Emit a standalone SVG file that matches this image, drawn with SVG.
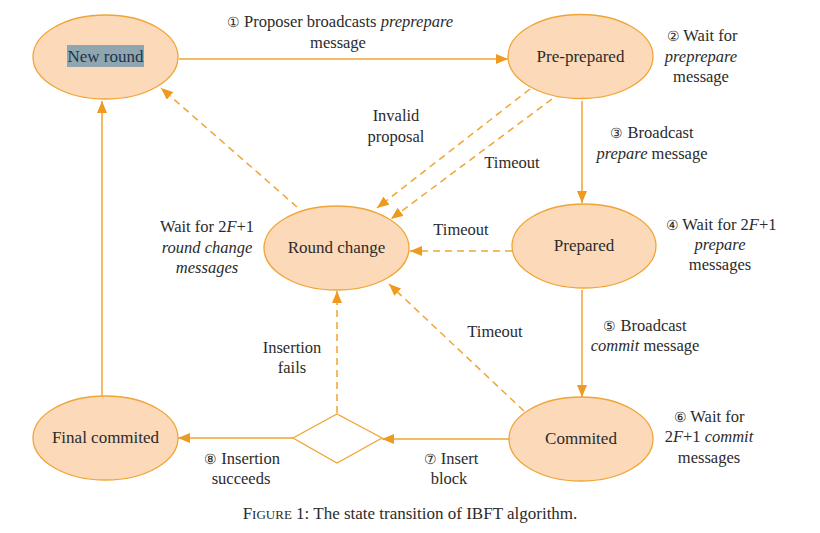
<svg xmlns="http://www.w3.org/2000/svg" width="820" height="533" viewBox="0 0 820 533">
<defs>
<style>
.node{fill:#FBD9B9;stroke:#F0A535;stroke-width:1.3}
.lbl{font-size:17px;fill:#2b2b2b;text-anchor:middle}
.t{font-size:16.5px;fill:#2b2b2b;text-anchor:middle}
.n{font-size:14px}
.ln{fill:none;stroke:#F0A535;stroke-width:1.5}
.dash{stroke-dasharray:7 5}
</style>
<marker id="ah" viewBox="0 0 12 10" refX="12" refY="5" markerWidth="12" markerHeight="10" markerUnits="userSpaceOnUse" orient="auto">
<path d="M0,0 L12,5 L0,10 Z" fill="#EE9A20"/>
</marker>
</defs>

<g id="connectors">
<line class="ln" x1="179" y1="59" x2="508" y2="59" marker-end="url(#ah)"/>
<line class="ln" x1="582" y1="101" x2="582" y2="203" marker-end="url(#ah)"/>
<line class="ln" x1="582" y1="290" x2="582" y2="397" marker-end="url(#ah)"/>
<line class="ln" x1="509" y1="439" x2="382" y2="439" marker-end="url(#ah)"/>
<line class="ln" x1="293" y1="438" x2="178" y2="438" marker-end="url(#ah)"/>
<line class="ln" x1="102" y1="396" x2="102" y2="101" marker-end="url(#ah)"/>
<line class="ln dash" x1="337" y1="413" x2="337" y2="291" marker-end="url(#ah)"/>
<line class="ln dash" x1="297" y1="207" x2="161" y2="88" marker-end="url(#ah)"/>
<line class="ln dash" x1="530" y1="89" x2="377" y2="208" marker-end="url(#ah)"/>
<line class="ln dash" x1="552" y1="99" x2="391" y2="219" marker-end="url(#ah)"/>
<line class="ln dash" x1="512" y1="251" x2="410" y2="251" marker-end="url(#ah)"/>
<line class="ln dash" x1="524" y1="411" x2="389" y2="284" marker-end="url(#ah)"/>
</g>

<g font-family="'Liberation Serif', 'DejaVu Serif', serif">
<g id="new-round">
<ellipse class="node" cx="105.5" cy="57" rx="72.5" ry="42"/>
<rect x="67" y="45" width="77" height="22" fill="#8FA5AF"/>
<text class="lbl" x="105.5" y="62" style="fill:#1d3448">New round</text>
</g>
<g id="pre-prepared">
<ellipse class="node" cx="580.5" cy="56.5" rx="72.5" ry="42"/>
<text class="lbl" x="580.5" y="62">Pre-prepared</text>
</g>
<g id="round-change">
<ellipse class="node" cx="336.5" cy="248" rx="72.5" ry="42"/>
<text class="lbl" x="336.5" y="253">Round change</text>
</g>
<g id="prepared">
<ellipse class="node" cx="584" cy="246" rx="72" ry="42"/>
<text class="lbl" x="584" y="251">Prepared</text>
</g>
<g id="commited">
<ellipse class="node" cx="581" cy="439" rx="72" ry="42"/>
<text class="lbl" x="581" y="444">Commited</text>
</g>
<g id="final-commited">
<ellipse class="node" cx="105.5" cy="438" rx="72.5" ry="42"/>
<text class="lbl" x="105.5" y="443">Final commited</text>
</g>
<g id="decision">
<polygon points="293,438 337,414 382,438 337,463" fill="#fff" stroke="#F0A535" stroke-width="1.3"/>
</g>

<g id="labels">
<text class="t" x="340" y="27"><tspan class="n">①</tspan> Proposer broadcasts <tspan font-style="italic">preprepare</tspan></text>
<text class="t" x="338" y="48">message</text>

<text class="t" x="702" y="41"><tspan class="n">②</tspan> Wait for</text>
<text class="t" x="701" y="62" font-style="italic">preprepare</text>
<text class="t" x="701" y="82">message</text>

<text class="t" x="396" y="121">Invalid</text>
<text class="t" x="396" y="142">proposal</text>
<text class="t" x="512" y="168">Timeout</text>

<text class="t" x="652" y="138"><tspan class="n">③</tspan> Broadcast</text>
<text class="t" x="652" y="159"><tspan font-style="italic">prepare</tspan> message</text>

<text class="t" x="461" y="235">Timeout</text>

<text class="t" x="207" y="232">Wait for 2<tspan font-style="italic">F</tspan>+1</text>
<text class="t" x="207" y="253" font-style="italic">round change</text>
<text class="t" x="207" y="273" font-style="italic">messages</text>

<text class="t" x="721" y="230"><tspan class="n">④</tspan> Wait for 2<tspan font-style="italic">F</tspan>+1</text>
<text class="t" x="720" y="250" font-style="italic">prepare</text>
<text class="t" x="720" y="270">messages</text>

<text class="t" x="495" y="337">Timeout</text>

<text class="t" x="645" y="331"><tspan class="n">⑤</tspan> Broadcast</text>
<text class="t" x="645" y="351"><tspan font-style="italic">commit</tspan> message</text>

<text class="t" x="292" y="353">Insertion</text>
<text class="t" x="292" y="373">fails</text>

<text class="t" x="709" y="422"><tspan class="n">⑥</tspan> Wait for</text>
<text class="t" x="709" y="442">2<tspan font-style="italic">F</tspan>+1 <tspan font-style="italic">commit</tspan></text>
<text class="t" x="709" y="463">messages</text>

<text class="t" x="451" y="464"><tspan class="n">⑦</tspan> Insert</text>
<text class="t" x="449" y="484">block</text>

<text class="t" x="242" y="464"><tspan class="n">⑧</tspan> Insertion</text>
<text class="t" x="241" y="484">succeeds</text>

<text class="t" x="410" y="519" style="font-size:17px">F<tspan style="font-size:13px">IGURE</tspan> 1: The state transition of IBFT algorithm.</text>
</g>
</g>
</svg>
